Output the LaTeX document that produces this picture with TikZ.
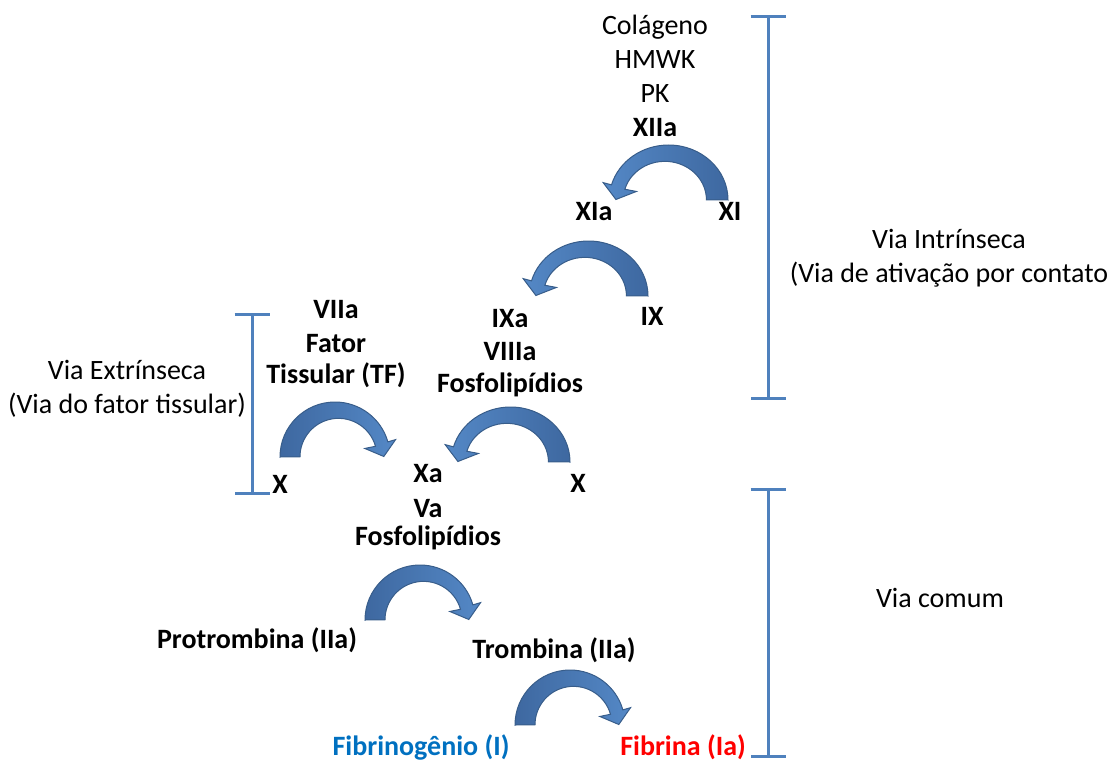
\documentclass[tikz,border=0pt]{standalone}
\usepackage{fontspec}
\setmainfont{Carlito}
\usetikzlibrary{arrows.meta}
\definecolor{brkblue}{RGB}{79,129,189}
\definecolor{arrowfill}{RGB}{84,136,198}
\definecolor{arrowdark}{RGB}{62,104,160}
\definecolor{arrowedge}{RGB}{56,93,138}
\definecolor{fibblue}{RGB}{0,112,192}

\begin{document}
\begin{tikzpicture}[x=1pt,y=-1pt,inner sep=0pt,align=center,
        font=\fontsize{28}{34}\selectfont,
        lbl/.style={anchor=base},
        fac/.style={anchor=base,font=\fontsize{28}{34}\selectfont\bfseries},
        bracket/.style={draw=brkblue,line width=3pt,{Bar[width=35pt]}-{Bar[width=35pt]}},
        curvarrow/.pic={
            \path[draw=arrowedge,left color=arrowdark,right color=arrowfill,shading angle=#1,line width=1pt,yscale=-1]
                (-55,0) arc[start angle=180,end angle=16,radius=55]
                -- (16:63) -- (48.8,0.5) -- (16:31) -- (40.5,10.75)
                arc[start angle=16,end angle=180,radius=38.5] -- cycle;
        }]
        \useasboundingbox (0,0) rectangle (1113,762);

        % via intrinseca
        \node[lbl] (colag) at (655,137) {Colágeno\\HMWK\\PK\\\textbf{XIIa}};
        \node[fac] (xia) at (594,220) {XIa};
        \node[fac] (xi) at (730,220) {XI};
        \node[fac] (ixa) at (510,392) {IXa\\[-1pt]VIIIa\\[-2pt]Fosfolipídios};
        \node[fac] (ix) at (652,325) {IX};
        \node[fac] (xr) at (578,492) {X};

        % via extrinseca
        \node[fac] (viia) at (336,383) {VIIa\\Fator\\[-3pt]Tissular (TF)};
        \node[fac] (xl) at (280,493) {X};

        % via comum
        \node[fac] (xa) at (428,545) {Xa\\[1pt]Va\\[-6pt]Fosfolipídios};
        \node[fac] (protr) at (257,648) {Protrombina (IIa)};
        \node[fac] (tromb) at (554,658) {Trombina (IIa)};
        \node[fac,text=fibblue] (fibrg) at (421,755) {Fibrinogênio (I)};
        \node[fac,text=red] (fibr) at (683,755) {Fibrina (Ia)};

        \pic[xscale=-1.08] at (668.6,200) {curvarrow=270};
        \pic[xscale=-1.08] at (588.6,296) {curvarrow=270};
        \pic[xscale=-1.08] at (510.6,462) {curvarrow=270};
        \pic at (335,457) {curvarrow=90};
        \pic at (420,620) {curvarrow=90};
        \pic at (570,725) {curvarrow=90};

        % chaves
        \coordinate (itop) at (768,15);
        \coordinate (ibot) at (768,400);
        \coordinate (etop) at (252,313);
        \coordinate (ebot) at (252,495);
        \coordinate (ctop) at (768,488);
        \coordinate (cbot) at (768,758);
        \draw[bracket] (itop) -- (ibot);
        \draw[bracket] (etop) -- (ebot);
        \draw[bracket] (ctop) -- (cbot);

        \node[lbl] (intr) at (949,282) {Via Intrínseca\\(Via de ativação por contato};
        \node[lbl] (extr) at (127,413) {Via Extrínseca\\(Via do fator tissular)};
        \node[lbl] (comum) at (940,607) {Via comum};
\end{tikzpicture}
\end{document}
